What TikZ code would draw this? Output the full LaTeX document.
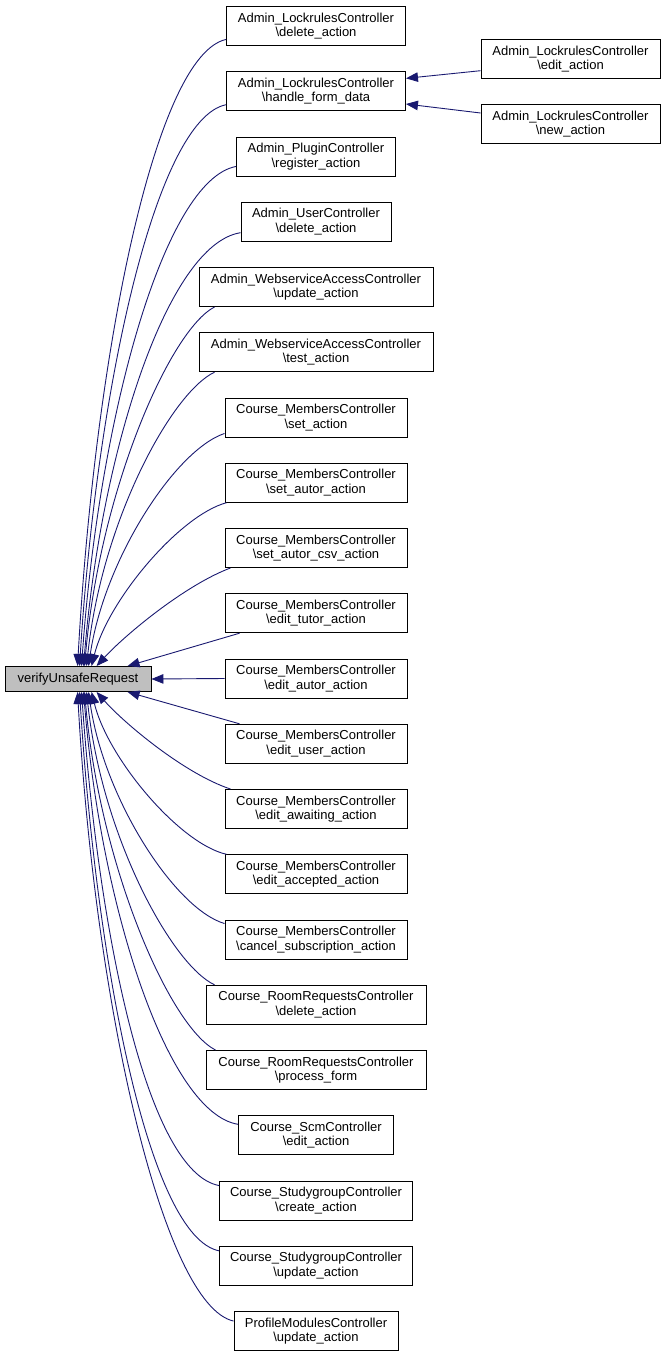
\documentclass[tikz,border=0pt]{standalone}
\usepackage{fontspec}
\setmainfont{Liberation Sans}
\usetikzlibrary{arrows.meta,calc}
\definecolor{edgeblue}{HTML}{191970}
\definecolor{mainfill}{HTML}{BFBFBF}
\begin{document}
\begin{tikzpicture}[x=1pt,y=-1pt,
  box/.style={draw=black, line width=0.9pt, fill=white, align=center, inner sep=0pt,
    minimum height=39pt, font=\fontsize{13}{14.5}\selectfont},
  mainbox/.style={box, fill=mainfill, minimum height=25pt},
  edge/.style={draw=edgeblue, line width=0.9pt, -{Triangle[length=12pt,width=9.5pt,fill=edgeblue]}}]
\useasboundingbox (0,0) rectangle (665,1359);

\node[mainbox, minimum width=146pt] (main) at (78,679) {verifyUnsafeRequest};

\node[box, minimum width=179pt] (b1)  at (316,26)     {Admin\_LockrulesController\\\textbackslash delete\_action};
\node[box, minimum width=179pt] (b2)  at (316,91.25)  {Admin\_LockrulesController\\\textbackslash handle\_form\_data};
\node[box, minimum width=159pt] (b3)  at (316,156.5)  {Admin\_PluginController\\\textbackslash register\_action};
\node[box, minimum width=150pt] (b4)  at (316,221.75) {Admin\_UserController\\\textbackslash delete\_action};
\node[box, minimum width=234pt] (b5)  at (316,287)    {Admin\_WebserviceAccessController\\\textbackslash update\_action};
\node[box, minimum width=234pt] (b6)  at (316,352.25) {Admin\_WebserviceAccessController\\\textbackslash test\_action};
\node[box, minimum width=182pt] (b7)  at (316,417.5)  {Course\_MembersController\\\textbackslash set\_action};
\node[box, minimum width=182pt] (b8)  at (316,482.75) {Course\_MembersController\\\textbackslash set\_autor\_action};
\node[box, minimum width=182pt] (b9)  at (316,548)    {Course\_MembersController\\\textbackslash set\_autor\_csv\_action};
\node[box, minimum width=182pt] (b10) at (316,613.25) {Course\_MembersController\\\textbackslash edit\_tutor\_action};
\node[box, minimum width=182pt] (b11) at (316,678.5)  {Course\_MembersController\\\textbackslash edit\_autor\_action};
\node[box, minimum width=182pt] (b12) at (316,743.75) {Course\_MembersController\\\textbackslash edit\_user\_action};
\node[box, minimum width=182pt] (b13) at (316,809)    {Course\_MembersController\\\textbackslash edit\_awaiting\_action};
\node[box, minimum width=182pt] (b14) at (316,874.25) {Course\_MembersController\\\textbackslash edit\_accepted\_action};
\node[box, minimum width=182pt] (b15) at (316,939.5)  {Course\_MembersController\\\textbackslash cancel\_subscription\_action};
\node[box, minimum width=220pt] (b16) at (316,1004.75) {Course\_RoomRequestsController\\\textbackslash delete\_action};
\node[box, minimum width=220pt] (b17) at (316,1070)   {Course\_RoomRequestsController\\\textbackslash process\_form};
\node[box, minimum width=155pt] (b18) at (316,1135.25) {Course\_ScmController\\\textbackslash edit\_action};
\node[box, minimum width=193pt] (b19) at (316,1200.5) {Course\_StudygroupController\\\textbackslash create\_action};
\node[box, minimum width=193pt] (b20) at (316,1265.75) {Course\_StudygroupController\\\textbackslash update\_action};
\node[box, minimum width=164pt] (b21) at (316,1331)   {ProfileModulesController\\\textbackslash update\_action};

\node[box, minimum width=179pt] (e1) at (570.5,59)  {Admin\_LockrulesController\\\textbackslash edit\_action};
\node[box, minimum width=179pt] (n1) at (570.5,124) {Admin\_LockrulesController\\\textbackslash new\_action};

% right column edges
\draw[edge] ($(e1.west)+(0,11.7)$) -- ($(b2.east)+(0,-12.9)$);
\draw[edge] ($(n1.west)+(0,-11)$) -- ($(b2.east)+(0,12.75)$);

% upper edges
\draw[edge] ($(b1.south west)+(0,-6.5)$) .. controls (155,55) and (95,353) .. ($(main.north west)+(73,0)$);
\draw[edge] ($(b2.south west)+(0,-6.5)$) .. controls (156,119) and (97,387) .. ($(main.north west)+(75,0)$);
\draw[edge] ($(b3.south west)+(0,-10)$) .. controls (164,180) and (99,417) .. ($(main.north west)+(77,0)$);
\draw[edge] ($(b4.south west)+(0,-9)$) .. controls (168,244) and (101,450) .. ($(main.north west)+(79,0)$);
\draw[edge] ($(b5.south west)+(16,0)$) .. controls (170,330) and (100,490) .. ($(main.north west)+(80,0)$);
\draw[edge] ($(b6.south west)+(16,0)$) .. controls (172,392) and (102,520) .. ($(main.north west)+(82,0)$);
\draw[edge] ($(b7.south west)+(0,-4)$) .. controls (175,450) and (104,560) .. ($(main.north west)+(84,0)$);
\draw[edge] ($(b8.south west)+(2,0)$) .. controls (180,515) and (108,600) .. ($(main.north west)+(87,0)$);
\draw[edge] ($(b9.south west)+(6,0)$) .. controls (185,585) and (125,635) .. ($(main.north west)+(92,0)$);
\draw[edge] ($(b10.south west)+(15,0)$) -- ($(main.north west)+(123,0)$);
\draw[edge] (b11.west) -- (main.east);

% lower edges
\draw[edge] ($(b12.north west)+(15,0)$) -- ($(main.south west)+(123,0)$);
\draw[edge] ($(b13.north west)+(6,0)$) .. controls (185,774) and (125,724) .. ($(main.south west)+(92,0)$);
\draw[edge] ($(b14.north west)+(2,0)$) .. controls (180,844) and (108,759) .. ($(main.south west)+(87,0)$);
\draw[edge] ($(b15.north west)+(0,4)$) .. controls (175,909) and (104,799) .. ($(main.south west)+(84,0)$);
\draw[edge] ($(b16.north west)+(9,0)$) .. controls (172,965) and (102,837) .. ($(main.south west)+(82,0)$);
\draw[edge] ($(b17.north west)+(10,0)$) .. controls (170,1027) and (100,867) .. ($(main.south west)+(80,0)$);
\draw[edge] ($(b18.north west)+(0,9)$) .. controls (168,1113) and (101,909) .. ($(main.south west)+(79,0)$);
\draw[edge] ($(b19.north west)+(0,5)$) .. controls (148,1172) and (99,939) .. ($(main.south west)+(77,0)$);
\draw[edge] ($(b20.north west)+(0,5)$) .. controls (150,1237) and (97,972) .. ($(main.south west)+(75,0)$);
\draw[edge] ($(b21.north west)+(0,10)$) .. controls (163,1305) and (95,1006) .. ($(main.south west)+(73,0)$);
\end{tikzpicture}
\end{document}
